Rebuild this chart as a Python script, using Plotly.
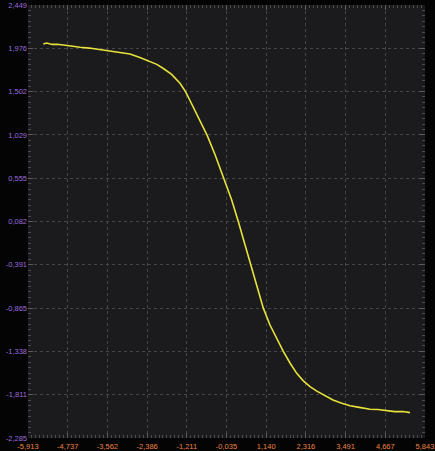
import plotly.graph_objects as go

x_vals = [-5.460, -5.36, -5.20, -5.05, -4.868, -4.62, -4.373, -4.10, -3.80, -3.485, -3.20, -2.893,
          -2.60, -2.398, -2.300, -2.10, -1.915, -1.66, -1.412, -1.249, -1.116, -0.970, -0.820, -0.604,
          -0.376, -0.109, 0.119, 0.314, 0.483, 0.682, 0.877, 1.055, 1.253, 1.452, 1.647, 1.85,
          2.044, 2.24, 2.438, 2.64, 2.832, 3.119, 3.38, 3.622, 3.90, 4.214, 4.45, 4.718, 4.95, 5.20, 5.399]
y_vals = [2.023, 2.034, 2.018, 2.020, 2.012, 1.998, 1.987, 1.978, 1.962, 1.949, 1.935, 1.913,
          1.876, 1.848, 1.834, 1.800, 1.757, 1.690, 1.593, 1.502, 1.405, 1.300, 1.188, 1.020,
          0.815, 0.548, 0.317, 0.082, -0.135, -0.391, -0.640, -0.865, -1.050, -1.205, -1.338, -1.468,
          -1.578, -1.660, -1.724, -1.773, -1.811, -1.870, -1.905, -1.932, -1.950, -1.971, -1.974, -1.987, -1.997, -1.996, -2.008]

x_ticks = [-5.913, -4.737, -3.562, -2.386, -1.211, -0.035, 1.140, 2.316, 3.491, 4.667, 5.843]
y_ticks = [-2.285, -1.811, -1.338, -0.865, -0.391, 0.082, 0.555, 1.029, 1.502, 1.976, 2.449]
x_tick_text = ["-5,913", "-4,737", "-3,562", "-2,386", "-1,211", "-0,035", "1,140", "2,316", "3,491", "4,667", "5,843"]
y_tick_text = ["-2,285", "-1,811", "-1,338", "-0,865", "-0,391", "0,082", "0,555", "1,029", "1,502", "1,976", "2,449"]

fig = go.Figure()
fig.add_trace(go.Scatter(x=x_vals, y=y_vals, mode="lines",
                         line=dict(color="#e6e23a", width=1.6),
                         hoverinfo="skip"))

axis_common = dict(
    showgrid=True, gridcolor="#46464a", griddash="dot", gridwidth=1,
    zeroline=False, showline=False, automargin=False,
    ticks="inside", ticklen=5, tickcolor="#5c5c60", mirror="allticks",
)

fig.update_layout(
    width=435, height=451,
    margin=dict(l=28, r=10, t=5, b=13),
    paper_bgcolor="#040405",
    plot_bgcolor="#1b1b1d",
    showlegend=False,
    font=dict(family="Liberation Sans", size=7.5),
    xaxis=dict(range=[-5.913, 5.843], tickvals=x_ticks, ticktext=x_tick_text,
               tickfont=dict(color="#ee8440", size=7.5), ticklabelstandoff=2,
               minor=dict(ticks="inside", ticklen=3, tickcolor="#4c4c50", tick0=-5.913,
                          dtick=0.11756, showgrid=False),
               **axis_common),
    yaxis=dict(range=[-2.285, 2.449], tickvals=y_ticks, ticktext=y_tick_text,
               tickfont=dict(color="#9c6cdc", size=7.5),
               minor=dict(ticks="inside", ticklen=3, tickcolor="#4c4c50", tick0=-2.285,
                          dtick=0.05918, showgrid=False),
               **axis_common),
)

fig.write_html(
    "out.html",
    config={"displayModeBar": False},
    post_script="document.body.style.margin='0';document.body.style.background='#040405';"
                "document.documentElement.style.overflow='hidden';",
)
